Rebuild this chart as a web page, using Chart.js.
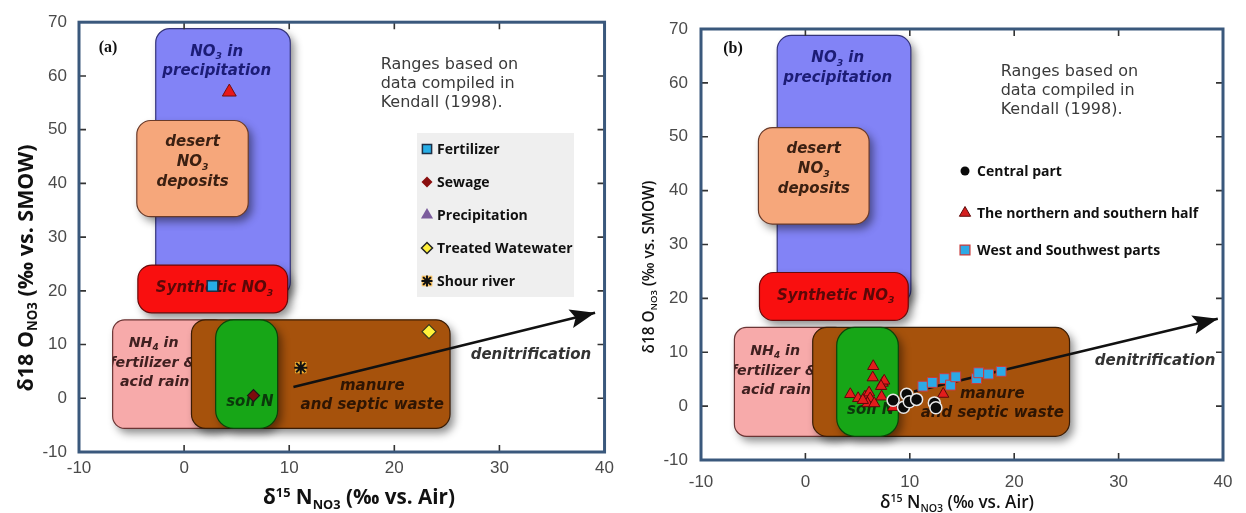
<!DOCTYPE html>
<html>
<head>
<meta charset="utf-8">
<script src="https://cdn.jsdelivr.net/npm/chart.js@4.4.1/dist/chart.umd.min.js"></script>
<style>
  html, body { margin: 0; padding: 0; background: #fff; }
  #wrap { position: relative; width: 1246px; height: 513px; overflow: hidden; }
  canvas { position: absolute; top: 0; }
  #chartA { left: 0; }
  #chartB { left: 620px; }
</style>
</head>
<body>
<div id="wrap">
  <canvas id="chartA" width="620" height="513"></canvas>
  <canvas id="chartB" width="626" height="513"></canvas>
</div>
<script>
// ---- axes ----
var xTicks = [-10, 0, 10, 20, 30, 40];
var yTicks = [-10, 0, 10, 20, 30, 40, 50, 60, 70];

// ---- source ranges (Kendall 1998) ----
var sourceNames = ['NO3 in precipitation', 'desert NO3 deposits', 'Synthetic NO3',
                   'NH4 in fertilizer & acid rain', 'manure and septic waste', 'soil N'];
var sourceN15 = [[-2.7, 10.1], [-4.5, 6.1], [-4.4, 9.85], [-6.8, 4], [0.7, 25.3], [3.0, 8.9]];
var sourceO18 = [[19, 68.8], [33.8, 51.7], [15.9, 24.8], [-5.6, 14.6], [-5.6, 14.6], [-5.6, 14.6]];

// ---- panel (a) samples ----
var legendA = ['Fertilizer', 'Sewage', 'Precipitation', 'Treated Watewater', 'Shour river'];
var fertilizerN15 = [2.7], fertilizerO18 = [20.9];
var sewageN15 = [6.6], sewageO18 = [0.5];
var precipN15 = [4.3], precipO18 = [57];
var treatedN15 = [23.3], treatedO18 = [12.4];
var shourN15 = [11.1], shourO18 = [5.7];
var arrowAN15 = [10.4, 39.1], arrowAO18 = [2.1, 15.9];

// ---- panel (b) samples ----
var legendB = ['Central part', 'The northern and southern half', 'West and Southwest parts'];
var centralN15 = [8.4, 9.7, 9.4, 9.95, 10.65, 12.35, 12.5];
var centralO18 = [1.1, 2.2, -0.2, 0.8, 1.25, 0.6, -0.3];
var northN15 = [6.5, 6.45, 7.4, 7.55, 7.25, 4.3, 5.05, 5.7, 6.1, 6.2, 5.95, 6.6, 7.3, 5.5, 8.4, 13.2];
var northO18 = [7.4, 5.3, 4.3, 4.7, 3.7, 2.2, 1.45, 1.75, 2.5, 1.4, 0.5, 0.5, 1.75, 1.1, -0.2, 2.25];
var westN15 = [11.25, 12.15, 13.3, 13.9, 14.4, 16.4, 16.6, 17.55, 18.75];
var westO18 = [3.7, 4.4, 5.1, 3.9, 5.45, 5.1, 6.2, 5.95, 6.45];
var arrowBN15 = [10.4, 39.5], arrowBO18 = [2.7, 16.2];

function pts(xs, ys) { return xs.map(function (v, i) { return { x: v, y: ys[i] }; }); }

// ---- styles ----
var sourceStyle = [
  { fill: '#8283f6', line: '#34347a', r: 14, text: '#1c1c76' },
  { fill: '#f6a77b', line: '#6a3b2a', r: 14, text: '#3b2012' },
  { fill: '#f90f0f', line: '#6a0a0a', r: 14, text: '#5a0808' },
  { fill: '#f7aaaa', line: '#6b3535', r: 12, text: '#402020' },
  { fill: '#a6520c', line: '#3a1c05', r: 14, text: '#2e1503' },
  { fill: '#17a617', line: '#0a440a', r: 18, text: '#0b380b' }
];
// label lines inside the boxes, in data units
var sourceLabels = [
  [{ t: ['NO', { sub: '3' }, ' in'], x: 3.1, y: 64.8 }, { t: ['precipitation'], x: 3.1, y: 61.2 }],
  [{ t: ['desert'], x: 0.8, y: 48 }, { t: ['NO', { sub: '3' }], x: 0.8, y: 44.2 }, { t: ['deposits'], x: 0.8, y: 40.5 }],
  [{ t: ['Synthetic NO', { sub: '3' }], x: 2.9, y: 20.7 }],
  [{ t: ['NH', { sub: '4' }, ' in'], x: -2.9, y: 10.5 }, { t: ['fertilizer &'], x: -3.0, y: 6.8 }, { t: ['acid rain'], x: -2.8, y: 3.2 }],
  [{ t: ['manure'], x: 17.9, y: 2.6 }, { t: ['and septic waste'], x: 17.9, y: -1.0 }],
  [{ t: ['soil N'], x: 6.25, y: -0.5 }]
];
var labelSize = [15, 15, 15, 14.2, 15, 15];
var rangesText = ['Ranges based on', 'data compiled in', 'Kendall (1998).'];

var legendStyleA = [
  [{ pointStyle: 'rect', radius: 6.5, fill: '#27aee6', line: '#1e2e44', lw: 1.5 }],
  [{ pointStyle: 'rectRot', radius: 5.5, fill: '#8a0e0e', line: '#8a0e0e', lw: 0 }],
  [{ pointStyle: 'triangle', radius: 7, fill: '#7b5c9c', line: '#7b5c9c', lw: 0 }],
  [{ pointStyle: 'rectRot', radius: 5.5, fill: '#ffef3a', line: '#222', lw: 1.5 }],
  [{ pointStyle: 'rect', radius: 7.5, fill: '#f6c060', line: '#f6c060', lw: 0 },
   { pointStyle: 'star', radius: 5.5, fill: 'rgba(0,0,0,0)', line: '#111', lw: 2 }]
];
var legendStyleB = [
  [{ pointStyle: 'circle', radius: 4.5, fill: '#0a0a0a', line: '#0a0a0a', lw: 0 }],
  [{ pointStyle: 'triangle', radius: 6.5, fill: '#d42020', line: '#5c0a0a', lw: 1 }],
  [{ pointStyle: 'rect', radius: 7, fill: '#2ca9e6', line: '#c83a3a', lw: 1.2 }]
];

function roundRectPath(ctx, x, y, w, h, r) {
  r = Math.min(r, w / 2, h / 2);
  ctx.beginPath();
  ctx.moveTo(x + r, y);
  ctx.arcTo(x + w, y, x + w, y + h, r);
  ctx.arcTo(x + w, y + h, x, y + h, r);
  ctx.arcTo(x, y + h, x, y, r);
  ctx.arcTo(x, y, x + w, y, r);
  ctx.closePath();
}

// text with sub / superscripts
function drawRich(ctx, parts, x, y, o) {
  var segs = parts.map(function (p) {
    if (typeof p === 'string') return { t: p, s: 1, dy: 0 };
    if (p.sub) return { t: p.sub, s: 0.62, dy: 0.22 };
    return { t: p.sup, s: 0.62, dy: -0.38 };
  });
  var fam = o.family || '"Open Sans"';
  function f(sz) { return (o.style || '') + ' ' + (o.weight || 'normal') + ' ' + sz + 'px ' + fam; }
  var size = o.size;
  var w = 0;
  segs.forEach(function (s) { ctx.font = f(s.s * size); w += ctx.measureText(s.t).width; });
  if (o.width) { size = size * o.width / w; }
  w = 0;
  segs.forEach(function (s) { ctx.font = f(s.s * size); s.w = ctx.measureText(s.t).width; w += s.w; });
  ctx.save();
  ctx.translate(x, y);
  if (o.rotate) ctx.rotate(o.rotate);
  ctx.fillStyle = o.color || '#000';
  ctx.textBaseline = 'alphabetic';
  ctx.textAlign = 'left';
  var cx = o.align === 'left' ? 0 : -w / 2;
  segs.forEach(function (s) {
    ctx.font = f(s.s * size);
    ctx.fillText(s.t, cx, size * 0.36 + s.dy * size);
    cx += s.w;
  });
  ctx.restore();
}

function marker(ctx, st, x, y) {
  ctx.save();
  ctx.fillStyle = st.fill;
  ctx.strokeStyle = st.line;
  ctx.lineWidth = st.lw;
  Chart.helpers.drawPoint(ctx, { pointStyle: st.pointStyle, radius: st.radius, rotation: 0, borderWidth: st.lw }, x, y);
  ctx.restore();
}

function decor(P) {
  return {
    id: 'decor',
    beforeDatasetsDraw: function (chart) {
      var ctx = chart.ctx, a = chart.chartArea, x = chart.scales.x, y = chart.scales.y;
      ctx.save();
      ctx.beginPath(); ctx.rect(a.left, a.top, a.right - a.left, a.bottom - a.top); ctx.clip();
      sourceNames.forEach(function (name, i) {
        var st = sourceStyle[i];
        var l = x.getPixelForValue(sourceN15[i][0]), r = x.getPixelForValue(sourceN15[i][1]);
        var t = y.getPixelForValue(sourceO18[i][1]), b = y.getPixelForValue(sourceO18[i][0]);
        ctx.save();
        ctx.shadowColor = 'rgba(0,0,0,0.45)';
        ctx.shadowBlur = 9; ctx.shadowOffsetX = 4; ctx.shadowOffsetY = 5;
        roundRectPath(ctx, l, t, r - l, b - t, st.r);
        ctx.fillStyle = st.fill; ctx.fill();
        ctx.restore();
        roundRectPath(ctx, l, t, r - l, b - t, st.r);
        ctx.lineWidth = 1.2; ctx.strokeStyle = st.line; ctx.stroke();
        ctx.save();
        roundRectPath(ctx, l, t, r - l, b - t, st.r); ctx.clip();
        sourceLabels[i].forEach(function (ln) {
          drawRich(ctx, ln.t, x.getPixelForValue(ln.x), y.getPixelForValue(ln.y),
            { style: 'italic', weight: 'bold', size: labelSize[i], family: '"DejaVu Sans"', color: st.text });
        });
        ctx.restore();
      });
      // Kendall note
      ctx.fillStyle = '#3a3a3a';
      ctx.font = '16px "DejaVu Sans"';
      ctx.textAlign = 'left'; ctx.textBaseline = 'middle';
      rangesText.forEach(function (s, k) {
        ctx.fillText(s, x.getPixelForValue(18.7), y.getPixelForValue(62 - 3.5 * k));
      });
      // denitrification
      drawRich(ctx, ['denitrification'], x.getPixelForValue(P.denit[0]), y.getPixelForValue(P.denit[1]),
        { style: 'italic', weight: 'bold', size: 15, family: '"DejaVu Sans"', color: '#333' });
      ctx.restore();
    },
    afterDatasetsDraw: function (chart) {
      var ctx = chart.ctx;
      // arrow head
      var idx = chart.data.datasets.length - 1;
      var pe = chart.getDatasetMeta(idx).data;
      var p0 = pe[pe.length - 2], p1 = pe[pe.length - 1];
      var dx = p1.x - p0.x, dy = p1.y - p0.y, L = Math.sqrt(dx * dx + dy * dy);
      var ux = dx / L, uy = dy / L, len = 25, hw = 9.5;
      ctx.save();
      ctx.fillStyle = '#111';
      ctx.beginPath();
      ctx.moveTo(p1.x, p1.y);
      ctx.lineTo(p1.x - ux * len - uy * hw, p1.y - uy * len + ux * hw);
      ctx.lineTo(p1.x - ux * len * 0.8, p1.y - uy * len * 0.8);
      ctx.lineTo(p1.x - ux * len + uy * hw, p1.y - uy * len - ux * hw);
      ctx.closePath();
      ctx.fill();
      ctx.restore();
    },
    afterDraw: function (chart) {
      var ctx = chart.ctx, a = chart.chartArea, x = chart.scales.x, y = chart.scales.y;
      ctx.save();
      // inward ticks
      ctx.strokeStyle = '#333'; ctx.lineWidth = 1.6;
      ctx.beginPath();
      xTicks.slice(1, -1).forEach(function (v) {
        var px = x.getPixelForValue(v);
        ctx.moveTo(px, a.bottom); ctx.lineTo(px, a.bottom - 7);
        ctx.moveTo(px, a.top); ctx.lineTo(px, a.top + 7);
      });
      yTicks.slice(1, -1).forEach(function (v) {
        var py = y.getPixelForValue(v);
        ctx.moveTo(a.left, py); ctx.lineTo(a.left + 7, py);
        ctx.moveTo(a.right, py); ctx.lineTo(a.right - 7, py);
      });
      ctx.stroke();
      // frame
      ctx.strokeStyle = '#3a587c'; ctx.lineWidth = 3;
      ctx.strokeRect(a.left, a.top, a.right - a.left, a.bottom - a.top);
      // panel letter
      ctx.fillStyle = '#111';
      ctx.font = 'bold 16px "Liberation Serif"';
      ctx.textAlign = 'center'; ctx.textBaseline = 'middle';
      ctx.fillText(P.letter, P.letterPos[0], P.letterPos[1]);
      // axis titles
      drawRich(ctx, ['δ18 O', { sub: 'NO3' }, ' (‰ vs. SMOW)'], P.yTitle[0], P.yTitle[1],
        { weight: P.titleWeight, size: 20, width: P.yTitle[2], rotate: -Math.PI / 2, color: '#111' });
      drawRich(ctx, ['δ', { sup: '15' }, ' N', { sub: 'NO3' }, ' (‰ vs. Air)'], P.xTitle[0], P.xTitle[1],
        { weight: P.titleWeight, size: 20, width: P.xTitle[2], color: '#111' });
      // legend
      if (P.legendBox) {
        ctx.fillStyle = '#efefef';
        ctx.fillRect(P.legendBox[0], P.legendBox[1], P.legendBox[2], P.legendBox[3]);
      }
      P.legend.forEach(function (lab, k) {
        var ly = P.legendRows[k];
        P.legendStyle[k].forEach(function (st) { marker(ctx, st, P.legendX[0], ly); });
        ctx.fillStyle = '#111';
        ctx.font = 'bold 14px "Open Sans"';
        ctx.textAlign = 'left'; ctx.textBaseline = 'middle';
        ctx.fillText(lab, P.legendX[1], ly + 1);
      });
      ctx.restore();
    }
  };
}

function makePanel(id, datasets, P) {
  var tickFont = { family: '"Liberation Sans"', size: 17 };
  return new Chart(document.getElementById(id), {
    type: 'scatter',
    data: { datasets: datasets },
    options: {
      responsive: false,
      animation: false,
      devicePixelRatio: 1,
      layout: { autoPadding: false, padding: { left: 0, top: P.top, right: P.right, bottom: 0 } },
      plugins: { legend: { display: false }, tooltip: { enabled: false } },
      scales: {
        x: {
          type: 'linear', min: -10, max: 40,
          afterBuildTicks: function (s) { s.ticks = xTicks.map(function (v) { return { value: v }; }); },
          ticks: { font: tickFont, color: '#4a4a4a', padding: P.xPad, maxRotation: 0,
                   callback: function (v) { return String(v); } },
          grid: { display: false, drawTicks: false },
          border: { display: false },
          afterFit: function (s) { s.height = P.xH; }
        },
        y: {
          type: 'linear', min: -10, max: 70,
          afterBuildTicks: function (s) { s.ticks = yTicks.map(function (v) { return { value: v }; }); },
          ticks: { font: tickFont, color: '#4a4a4a', padding: P.yPad,
                   callback: function (v) { return String(v); } },
          grid: { display: false, drawTicks: false },
          border: { display: false },
          afterFit: function (s) { s.width = P.yW; }
        }
      }
    },
    plugins: [decor(P)]
  });
}

var arrowStyle = { showLine: true, borderColor: '#111', borderWidth: 2.6, pointRadius: 0, fill: false };

makePanel('chartA', [
  { label: legendA[0], data: pts(fertilizerN15, fertilizerO18), pointStyle: 'rect', pointRadius: 7.5,
    backgroundColor: '#27aee6', borderColor: '#1e2e44', borderWidth: 1.5 },
  { label: legendA[1], data: pts(sewageN15, sewageO18), pointStyle: 'rectRot', pointRadius: 6,
    backgroundColor: '#7d0d0d', borderColor: '#1a1a1a', borderWidth: 1.2 },
  { label: legendA[2], data: pts(precipN15, precipO18), pointStyle: 'triangle', pointRadius: 8,
    backgroundColor: '#e81818', borderColor: '#701010', borderWidth: 1 },
  { label: legendA[3], data: pts(treatedN15, treatedO18), pointStyle: 'rectRot', pointRadius: 7,
    backgroundColor: '#fff23a', borderColor: '#3a3a20', borderWidth: 1.2 },
  { label: legendA[4], data: pts(shourN15, shourO18), pointStyle: 'star', pointRadius: 6.5,
    backgroundColor: '#111', borderColor: '#111', borderWidth: 2 },
  { label: legendA[4], data: pts(shourN15, shourO18), pointStyle: 'rect', pointRadius: 8,
    backgroundColor: '#f2b233', borderColor: '#f2b233', borderWidth: 0 },
  Object.assign({ label: 'denitrification', data: pts(arrowAN15, arrowAO18) }, arrowStyle)
], {
  top: 22, right: 15, yW: 79, xH: 61, xPad: 6, yPad: 12,
  letter: '(a)', letterPos: [108, 48],
  yTitle: [25, 268, 247], xTitle: [359, 497, 192], titleWeight: 'bold',
  denit: [33.0, 8.4],
  legend: legendA, legendStyle: legendStyleA, legendBox: [417, 133, 157, 164],
  legendX: [427, 437], legendRows: [149, 182, 215, 248, 281]
});

makePanel('chartB', [
  { label: legendB[0], data: pts(centralN15, centralO18), pointStyle: 'circle', pointRadius: 6,
    backgroundColor: '#0a0a0a', borderColor: '#e8e8e8', borderWidth: 1.5 },
  { label: legendB[1], data: pts(northN15, northO18), pointStyle: 'triangle', pointRadius: 6.5,
    backgroundColor: '#e31c1c', borderColor: '#5c0a0a', borderWidth: 1 },
  { label: legendB[2], data: pts(westN15, westO18), pointStyle: 'rect', pointRadius: 7,
    backgroundColor: '#2ca9e6', borderColor: '#d03a3a', borderWidth: 1 },
  Object.assign({ label: 'denitrification', data: pts(arrowBN15, arrowBO18) }, arrowStyle)
], {
  top: 29, right: 23, yW: 81, xH: 53, xPad: 12, yPad: 13,
  letter: '(b)', letterPos: [113, 49],
  yTitle: [28, 267, 173], xTitle: [337, 502, 154], titleWeight: '600',
  denit: [33.5, 8.55],
  legend: legendB, legendStyle: legendStyleB, legendBox: null,
  legendX: [345, 357], legendRows: [171, 213, 250]
});
</script>
</body>
</html>
